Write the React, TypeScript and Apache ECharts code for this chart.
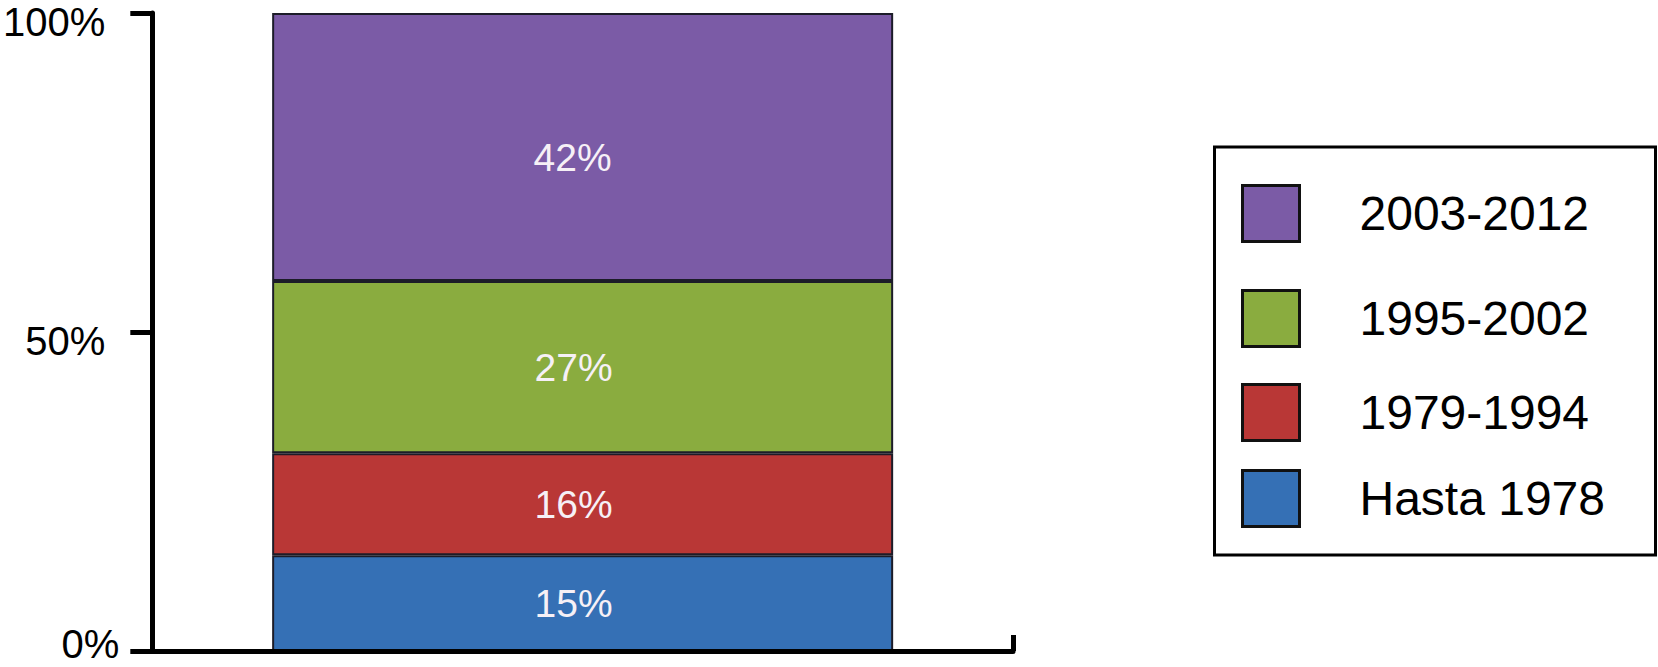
import React, { useEffect, useRef } from "react";
import * as echarts from "echarts";

const categories = ["Total"];
const seriesNames = ["Hasta 1978", "1979-1994", "1995-2002", "2003-2012"];
const seriesValues = [[15], [16], [27], [42]];
const seriesColors = ["#3570B5", "#B93736", "#8AAC3F", "#7B5BA6"];
const yTicks = [0, 50, 100];
const legendTops = [469, 383, 289, 184];

export default function App() {
  const ref = useRef<HTMLDivElement>(null);
  useEffect(() => {
    if (!ref.current) return;
    const chart = echarts.init(ref.current, null, { renderer: "svg" });
    const font = "'Liberation Sans', Arial, Helvetica, sans-serif";
    const series = seriesNames.map((name, i) => ({
      name,
      type: "bar",
      stack: "total",
      barWidth: 621,
      data: seriesValues[i],
      itemStyle: { color: seriesColors[i], borderColor: "#1c1c28", borderWidth: 2 },
      label: {
        show: true,
        position: "inside",
        formatter: "{c}%",
        color: "#f6f0f6",
        fontSize: 39,
        fontFamily: font,
        offset: i === 3 ? [-10, 11] : [-9, 0],
      },
    }));
    const legends = seriesNames.map((name, i) => ({
      data: [{ name, icon: "rect", itemStyle: { borderColor: "#111", borderWidth: 3 } }],
      left: 1241,
      top: legendTops[i],
      padding: 0,
      orient: "vertical",
      itemWidth: 57,
      itemHeight: 56,
      selectedMode: false,
      textStyle: {
        fontSize: 48,
        fontFamily: font,
        color: "#000",
        lineHeight: 56,
        padding: [0, 0, 0, 55],
      },
    }));
    chart.setOption({
      animation: false,
      backgroundColor: "#fff",
      grid: { left: 150, right: 645, top: 13, bottom: 16, containLabel: false },
      legend: legends,
      xAxis: {
        type: "category",
        data: categories,
        z: 5,
        axisLine: { lineStyle: { color: "#000", width: 5 } },
        axisTick: { show: true, inside: true, length: 16, lineStyle: { color: "#000", width: 5 } },
        axisLabel: { show: false },
      },
      yAxis: {
        type: "value",
        min: yTicks[0],
        max: yTicks[yTicks.length - 1],
        interval: yTicks[1] - yTicks[0],
        splitLine: { show: false },
        axisLine: { show: true, lineStyle: { color: "#000", width: 5 } },
        axisTick: { show: true, length: 22, lineStyle: { color: "#000", width: 5 } },
        axisLabel: {
          margin: 33,
          formatter: (v: number) => (v === 0 ? `{b|${v}%}` : `{a|${v}%}`),
          rich: {
            a: { fontSize: 40, fontFamily: font, color: "#000", padding: [18, 14, 0, 0] },
            b: { fontSize: 40, fontFamily: font, color: "#000", padding: [0, 0, 14, 0] },
          },
        },
      },
      graphic: [
        {
          type: "rect",
          shape: { x: 1214.5, y: 147, width: 441, height: 408 },
          style: { fill: "none", stroke: "#000", lineWidth: 3 },
          z: 0,
        },
      ],
      series,
    });
    return () => chart.dispose();
  }, []);
  return <div ref={ref} style={{ width: 1658, height: 667, position: "absolute", left: 0, top: 0 }} />;
}
